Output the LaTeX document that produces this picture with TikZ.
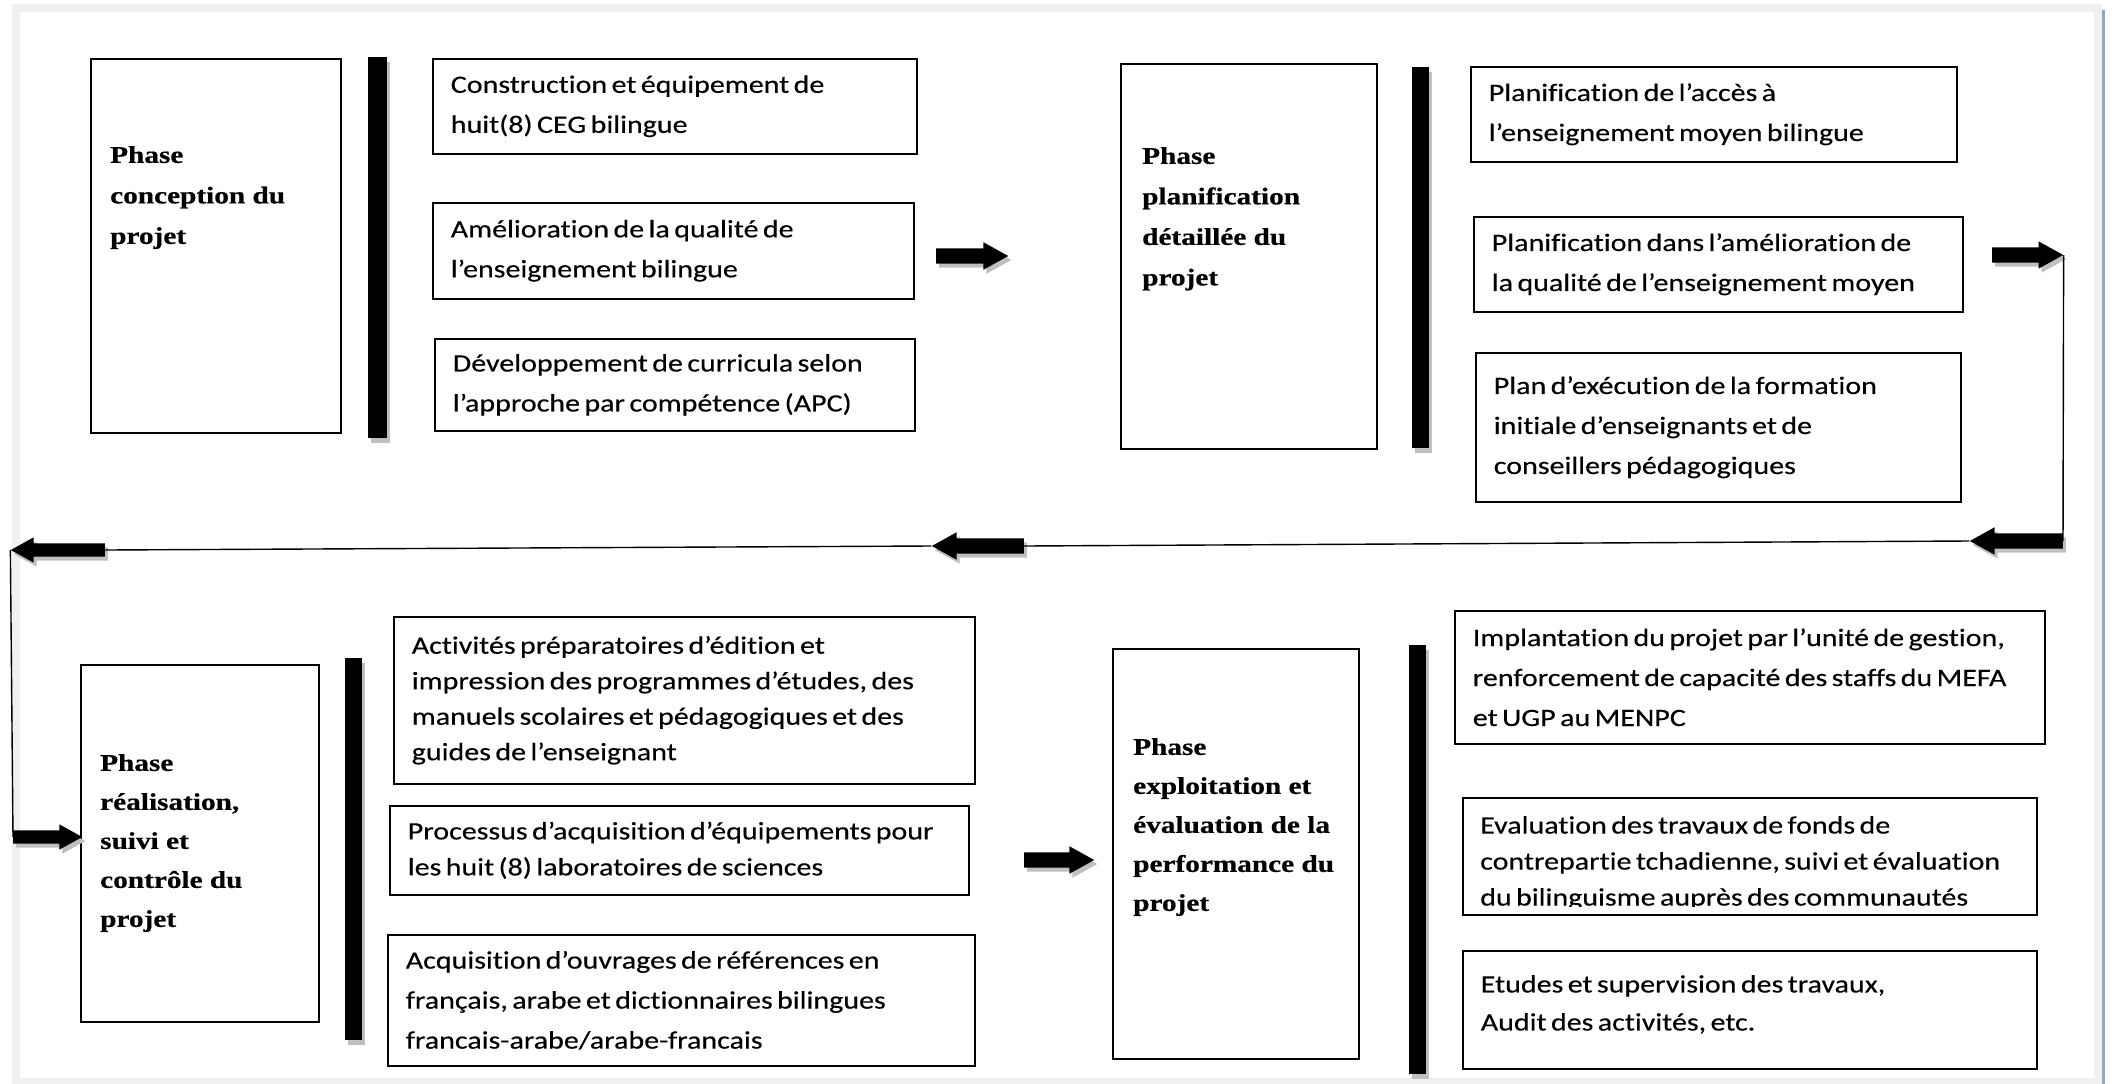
\documentclass[tikz,border=0pt]{standalone}
\usepackage{fontspec}
\newfontfamily\itemfont{Carlito}[FakeStretch=1.2, FakeBold=0.3, WordSpace=0.65, Ligatures=NoCommon]
\newfontfamily\phasefont{Liberation Serif}[FakeStretch=1.22, FakeBold=0.6]
\usetikzlibrary{shapes.arrows, shadows}

\definecolor{framegray}{RGB}{240,240,240}
\definecolor{edgeblue}{RGB}{150,165,190}

\tikzset{
  boxshadow/.style={drop shadow={shadow xshift=1.5pt, shadow yshift=-1.5pt, fill=black!35, opacity=1}},
  itembox/.style={draw, line width=1.6pt, fill=white, boxshadow, anchor=north west, align=flush left,
    inner xsep=18pt, inner ysep=0pt, font=\itemfont\fontsize{25}{40}\selectfont},
  tightlines/.style={font=\itemfont\fontsize{25}{#1}\selectfont},
  phasebox/.style={draw, line width=1.6pt, fill=white, boxshadow, anchor=north west, inner sep=0pt},
  phaselabel/.style={anchor=north west, align=left, inner sep=0pt,
    font=\phasefont\bfseries\fontsize{24}{#1}\selectfont},
  blockarrow/.style={single arrow, fill=black, inner xsep=0pt, inner ysep=7.5pt, anchor=tail,
    single arrow head extend=6pt, single arrow tip angle=58, minimum height=#1,
    drop shadow={shadow xshift=3pt, shadow yshift=-4pt, fill=black!25, opacity=1}},
  leftarrow/.style={blockarrow=#1, shape border rotate=180},
  thinshaft/.style={inner ysep=6.5pt},
  connector/.style={line width=1.4pt}
}

\begin{document}
\begin{tikzpicture}[x=1pt, y=-1pt]
\useasboundingbox (0,0) rectangle (2112,1084);
% page frame
\fill[white] (0,0) rectangle (2112,1084);
\fill[framegray] (12,4) rectangle (2102,1084);
\fill[white] (20,12) rectangle (2094,1078);
\fill[edgeblue] (2102,10) rectangle (2105,1084);

% thick bars
\foreach \xa/\ya/\xb/\yb in {368/57/387/438, 1412/67/1429/448, 345/658/362/1040, 1409/645/1426/1074} {
  \fill[black!25] (\xa+3,\ya+5) rectangle (\xb+3,\yb+5);
  \fill (\xa,\ya) rectangle (\xb,\yb);
}

% phases
\node[phasebox, minimum width=250pt, minimum height=374pt] (p1) at (90,58) {};
\node[phasebox, minimum width=256pt, minimum height=385pt] (p2) at (1120,63) {};
\node[phasebox, minimum width=238pt, minimum height=357pt] (p3) at (80,664) {};
\node[phasebox, minimum width=246pt, minimum height=410pt] (p4) at (1112,648) {};
\node[phaselabel=40.5] (p1t) at (110,146) {Phase\\conception du\\projet};
\node[phaselabel=40.5] (p2t) at (1142,147) {Phase\\planification\\détaillée du\\projet};
\node[phaselabel=39] (p3t) at (100,754) {Phase\\réalisation,\\suivi et\\contrôle du\\projet};
\node[phaselabel=39] (p4t) at (1133,738) {Phase\\exploitation et\\évaluation de la\\performance du\\projet};

% conception
\node[itembox, text width=448pt, minimum height=95pt] (a1) at (432,58) {Construction et équipement de\\huit(8) CEG bilingue};
\node[itembox, text width=445pt, minimum height=96pt] (a2) at (432,202) {Amélioration de la qualité de\\l’enseignement bilingue};
\node[itembox, text width=444pt, minimum height=92pt] (a3) at (434,338) {Développement de curricula selon\\l’approche par compétence (APC)};

% planification
\node[itembox, text width=450pt, minimum height=95pt] (b1) at (1470,66) {Planification de l’accès à\\l’enseignement moyen bilingue};
\node[itembox, text width=453pt, minimum height=95pt] (b2) at (1473,216) {Planification dans l’amélioration de\\la qualité de l’enseignement moyen};
\node[itembox, text width=449pt, minimum height=149pt] (b3) at (1475,352) {Plan d’exécution de la formation\\initiale d’enseignants et de\\conseillers pédagogiques};

% realisation
\node[itembox, tightlines=35.5, text width=545pt, minimum height=167pt] (c1) at (393,616) {Activités préparatoires d’édition et\\impression des programmes d’études, des\\manuels scolaires et pédagogiques et des\\guides de l’enseignant};
\node[itembox, tightlines=36, text width=543pt, minimum height=89pt] (c2) at (389,805) {Processus d’acquisition d’équipements pour\\les huit (8) laboratoires de sciences};
\node[itembox, text width=551pt, minimum height=131pt] (c3) at (387,934) {Acquisition d’ouvrages de références en\\français, arabe et dictionnaires bilingues\\francais-arabe/arabe-francais};

% exploitation
\node[itembox, text width=554pt, minimum height=133pt] (d1) at (1454,610) {Implantation du projet par l’unité de gestion,\\renforcement de capacité des staffs du MEFA\\et UGP au MENPC};
\node[itembox, text width=538pt, minimum height=117pt] (d2) at (1462,797) {};
\begin{scope}
  \clip (d2.north west) rectangle ([yshift=9pt]d2.south east);
  \node[anchor=north west, align=left, inner sep=0pt, font=\itemfont\fontsize{25}{36}\selectfont] (d2t) at (1480,816) {Evaluation des travaux de fonds de\\contrepartie tchadienne, suivi et évaluation\\du bilinguisme auprès des communautés};
\end{scope}
\node[itembox, tightlines=38, text width=538pt, minimum height=118pt] (d3) at (1462,950) {Etudes et supervision des travaux,\\Audit des activités, etc.\\[-24pt]\mbox{}};

% block arrows
\node[blockarrow=72pt] (ar1) at (936,256) {};
\node[blockarrow=71pt] (ar2) at (1992,255) {};
\node[leftarrow=93pt] (ar3) at (2063,541) {};
\node[leftarrow=92pt] (ar4) at (1024,546) {};
\node[leftarrow=94pt, thinshaft] (ar5) at (105,550) {};
\node[blockarrow=69pt, thinshaft] (ar6) at (13,837) {};
\node[blockarrow=70pt] (ar7) at (1024,860) {};

\draw[connector] (ar2.tip) -- (ar3.tail);
\draw[connector] (ar3.tip) -- (ar4.tail);
\draw[connector] (ar4.tip) -- (ar5.tail);
\draw[connector] (ar5.tip) -- (ar6.tail);
\end{tikzpicture}
\end{document}
